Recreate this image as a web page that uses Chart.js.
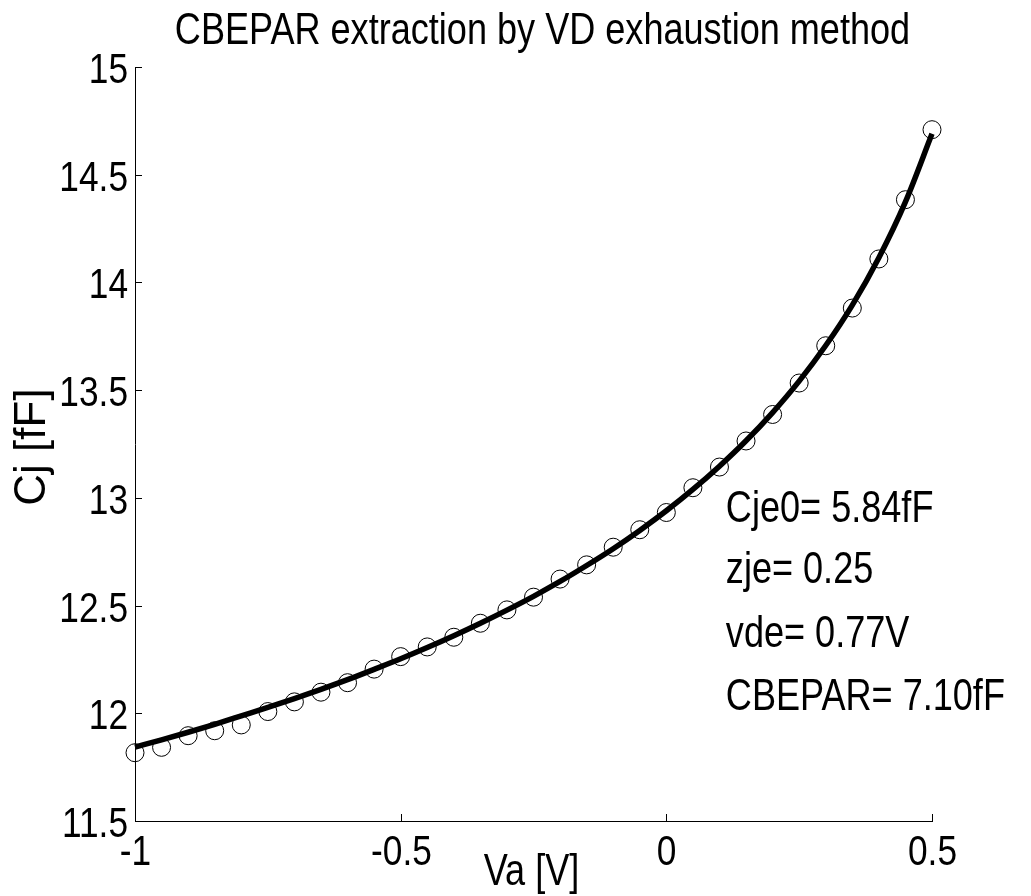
<!DOCTYPE html>
<html>
<head>
<meta charset="utf-8">
<title>CBEPAR extraction</title>
<script src="https://cdn.jsdelivr.net/npm/chart.js@4.4.1/dist/chart.umd.min.js"></script>
<style>
html, body { margin: 0; padding: 0; background: #fff; }
#wrap { width: 1031px; height: 896px; }
</style>
</head>
<body>
<div id="wrap"><canvas id="cj_plot" width="1031" height="896"></canvas></div>
<script>
// applied bias (V)
var va = [-1, -0.95, -0.9, -0.85, -0.8, -0.75, -0.7, -0.65, -0.6, -0.55,
	-0.5, -0.45, -0.4, -0.35, -0.3, -0.25, -0.2, -0.15, -0.1, -0.05,
	0, 0.05, 0.1, 0.15, 0.2, 0.25, 0.3, 0.35, 0.4, 0.45, 0.5];

// measured junction capacitance (fF)
var cjMeasured = [11.817, 11.842, 11.896, 11.919, 11.946, 12.008, 12.053, 12.098, 12.142, 12.205,
	12.263, 12.308, 12.353, 12.418, 12.480, 12.539, 12.623, 12.689, 12.771, 12.852,
	12.932, 13.047, 13.143, 13.264, 13.387, 13.533, 13.706, 13.881, 14.109, 14.384, 14.709];

// fitted curve (fF)
var cjFit = [11.843, 11.877, 11.912, 11.949, 11.988, 12.027, 12.068, 12.111, 12.156, 12.204,
	12.253, 12.305, 12.360, 12.418, 12.479, 12.543, 12.612, 12.686, 12.764, 12.849,
	12.940, 13.039, 13.147, 13.265, 13.396, 13.542, 13.707, 13.895, 14.115, 14.374, 14.690];

var fitParams = ['Cje0= 5.84fF', 'zje= 0.25', 'vde= 0.77V', 'CBEPAR= 7.10fF'];
var titleText = 'CBEPAR extraction by VD exhaustion method';
var xLabel = 'Va [V]';
var yLabel = 'Cj [fF]';

var FONT = "'Liberation Sans', Arial, sans-serif";
var SQUEEZE = 0.82;   // horizontal text is drawn condensed

function pairs(xs, ys) {
	return xs.map(function(x, i) { return {x: x, y: ys[i]}; });
}

function tickText(v) {
	return String(+v.toFixed(2));
}

function narrowText(ctx, s, x, y, align) {
	ctx.save();
	ctx.translate(x, y);
	ctx.scale(SQUEEZE, 1);
	ctx.textAlign = align;
	ctx.textBaseline = 'alphabetic';
	ctx.fillText(s, 0, 0);
	ctx.restore();
}

// inward ticks, tick labels, titles and the parameter block
var decorations = {
	id: 'decorations',
	afterDraw: function(chart) {
		var ctx = chart.ctx;
		var area = chart.chartArea;
		var xs = chart.scales.x, ys = chart.scales.y;
		ctx.save();
		ctx.strokeStyle = '#000';
		ctx.fillStyle = '#000';
		ctx.lineWidth = 1;
		ctx.font = '43px ' + FONT;
		xs.ticks.forEach(function(t) {
			var px = Math.round(xs.getPixelForValue(t.value)) + 0.5;
			ctx.beginPath();
			ctx.moveTo(px, area.bottom);
			ctx.lineTo(px, area.bottom - 7);
			ctx.stroke();
			narrowText(ctx, tickText(t.value), px, area.bottom + 44, 'center');
		});
		ys.ticks.forEach(function(t) {
			var py = Math.round(ys.getPixelForValue(t.value)) + 0.5;
			ctx.beginPath();
			ctx.moveTo(area.left, py);
			ctx.lineTo(area.left + 7, py);
			ctx.stroke();
			narrowText(ctx, tickText(t.value), area.left - 7, py + 15, 'right');
		});

		ctx.font = '44px ' + FONT;
		narrowText(ctx, titleText, (area.left + area.right) / 2 + 9, 44, 'center');
		narrowText(ctx, xLabel, (area.left + area.right) / 2 - 2, 885, 'center');

		var tx = xs.getPixelForValue(0.112);
		var ty = [12.89, 12.605, 12.308, 12.016];
		fitParams.forEach(function(s, i) {
			narrowText(ctx, s, tx, ys.getPixelForValue(ty[i]), 'left');
		});

		ctx.translate(45, (area.top + area.bottom) / 2 + 3);
		ctx.rotate(-Math.PI / 2);
		ctx.textAlign = 'center';
		ctx.textBaseline = 'alphabetic';
		ctx.fillText(yLabel, 0, 0);
		ctx.restore();
	}
};

var config = {
	type: 'scatter',
	data: {
		datasets: [{
			label: 'fit',
			data: pairs(va, cjFit),
			showLine: true,
			borderColor: '#000',
			borderWidth: 5.5,
			pointRadius: 0,
			cubicInterpolationMode: 'monotone',
			clip: false,
			order: 0
		}, {
			label: 'measured',
			data: pairs(va, cjMeasured),
			showLine: false,
			pointStyle: 'circle',
			pointRadius: 9,
			pointBorderWidth: 1,
			pointBorderColor: '#000',
			pointBackgroundColor: 'rgba(0,0,0,0)',
			clip: false,
			order: 1
		}]
	},
	options: {
		responsive: false,
		devicePixelRatio: 1,
		animation: false,
		layout: {
			padding: {top: 67, right: 99, bottom: 0, left: 0}
		},
		plugins: {
			legend: {display: false},
			title: {display: false},
			tooltip: {enabled: false}
		},
		scales: {
			x: {
				type: 'linear',
				min: -1,
				max: 0.5,
				grid: {display: false, drawTicks: false},
				border: {display: true, color: '#000', width: 1},
				ticks: {stepSize: 0.5, display: false},
				afterFit: function(scale) { scale.height = 75; }
			},
			y: {
				type: 'linear',
				min: 11.5,
				max: 15,
				grid: {display: false, drawTicks: false},
				border: {display: true, color: '#000', width: 1},
				ticks: {stepSize: 0.5, display: false},
				afterFit: function(scale) { scale.width = 135; }
			}
		}
	},
	plugins: [decorations]
};

window.onload = function() {
	var ctx = document.getElementById('cj_plot').getContext('2d');
	window.cjChart = new Chart(ctx, config);
};
</script>
</body>
</html>
